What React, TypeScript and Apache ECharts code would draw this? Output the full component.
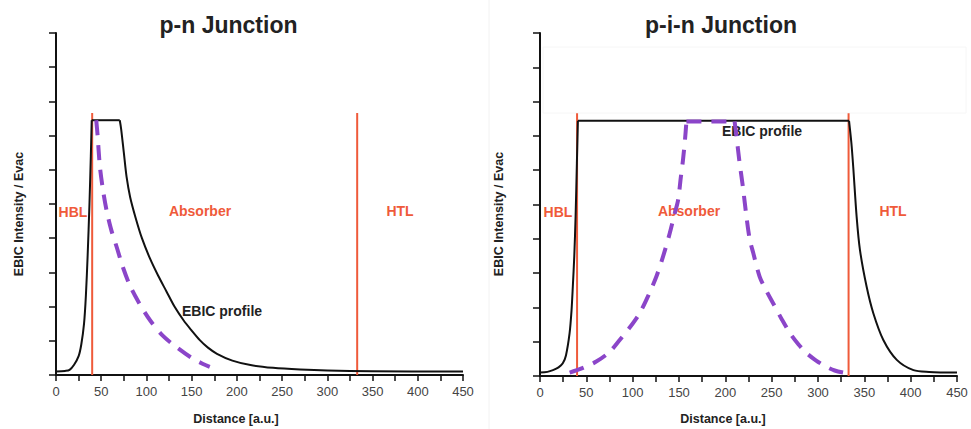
import React, { useEffect, useRef } from "react";
import * as echarts from "echarts";

const FONT = "'Liberation Sans', Arial, Helvetica, sans-serif";

const titles = ["p-n Junction", "p-i-n Junction"];
const xAxisName = "Distance [a.u.]";
const yAxisName = "EBIC Intensity / Evac";
const regionLabels = ["HBL", "Absorber", "HTL"];
const profileLabel = "EBIC profile";

// Layer boundaries (Distance, a.u.) and marker height
const boundaries = [40, 333];
const boundaryTop = 7.66;

// p-n junction: EBIC profile (black) and dashed (purple)
const pnEbic: [number, number][] = [
  [0, 0.1], [10, 0.12], [15, 0.15], [20, 0.3], [25, 0.55], [28, 0.9], [31, 1.5],
  [33, 2.3], [35, 3.5], [37, 5.0], [38.5, 6.4], [39.5, 7.45], [70.5, 7.45],
  [72, 7.2], [75, 6.5], [78, 5.8], [82, 5.2], [88, 4.6], [95, 4.0], [104, 3.4],
  [113, 2.9], [122, 2.45], [131, 2.0], [141, 1.6], [150, 1.3], [159, 1.02],
  [168, 0.8], [178, 0.62], [195, 0.42], [215, 0.29], [240, 0.21], [270, 0.16],
  [300, 0.13], [350, 0.11], [450, 0.1],
];
const pnDashed: [number, number][] = [
  [44.5, 7.45], [46, 7.0], [48.5, 6.1], [52, 5.4], [56, 4.8], [61, 4.25], [67, 3.75],
  [74, 3.15], [82, 2.6], [92, 2.1], [104, 1.6], [118, 1.15], [133, 0.82],
  [150, 0.5], [162, 0.33], [170, 0.24],
];

// p-i-n junction
const pinEbic: [number, number][] = [
  [0, 0.1], [8, 0.12], [14, 0.17], [20, 0.25], [24.6, 0.37], [28, 0.6], [31.9, 1.24],
  [34, 1.9], [35.4, 2.6], [37, 3.5], [38.4, 4.64], [39.8, 6.2], [40.9, 7.44],
  [333.5, 7.44], [336, 6.8], [338, 6.1], [341.7, 4.64], [345.3, 3.67], [352.5, 2.6],
  [359.7, 1.83], [370.5, 1.05], [385, 0.47], [403, 0.17], [420, 0.12], [450, 0.1],
];
const pinDashed: [number, number][] = [
  [32, 0.1], [45, 0.22], [60.7, 0.42], [75, 0.7], [86, 1.05], [97, 1.42], [107.5, 1.83],
  [117, 2.35], [125.6, 2.9], [133, 3.5], [140, 4.16], [145, 4.7], [149, 5.13],
  [152, 5.8], [154.3, 6.3], [156.5, 6.9], [158, 7.42], [210, 7.42], [212, 7.0],
  [215, 6.3], [219, 5.5], [223, 4.6], [226.4, 3.97], [230, 3.6], [237, 2.9],
  [244, 2.5], [252, 2.1], [261, 1.65], [270, 1.24], [279, 0.92], [288, 0.66],
  [298, 0.45], [309, 0.27], [318, 0.16], [327, 0.1],
];

const RED = "#ef5a3a";
const PURPLE = "#8b45c9";
const BLACK = "#111111";

// split a curve into curved runs and flat (plateau) runs, sharing endpoints
function splitRuns(data: [number, number][]) {
  const runs: { flat: boolean; pts: [number, number][] }[] = [];
  let i = 0;
  while (i < data.length - 1) {
    const flat = data[i][1] === data[i + 1][1] && data[i][1] > 1;
    const pts: [number, number][] = [data[i]];
    let j = i;
    while (j < data.length - 1) {
      const f = data[j][1] === data[j + 1][1] && data[j][1] > 1;
      if (f !== flat) break;
      pts.push(data[j + 1]);
      j++;
    }
    runs.push({ flat, pts });
    i = j;
  }
  return runs;
}

export default function App() {
  const ref = useRef<HTMLDivElement>(null);
  useEffect(() => {
    if (!ref.current) return;
    const chart = echarts.init(ref.current, null, { renderer: "svg" });

    const mkX = (gi: number) => ({
      gridIndex: gi,
      type: "value",
      min: 0,
      max: 450,
      interval: 50,
      axisLine: { show: true, onZero: false, lineStyle: { color: BLACK, width: 2 } },
      axisTick: { show: true, length: 6, lineStyle: { color: BLACK, width: 1.5 } },
      minorTick: { show: true, splitNumber: 2, length: 6, lineStyle: { color: BLACK, width: 1.5 } },
      axisLabel: { fontSize: 13, color: "#444", margin: 10, fontFamily: FONT },
      splitLine: { show: false },
      minorSplitLine: { show: false },
    });
    const mkY = (gi: number) => ({
      gridIndex: gi,
      type: "value",
      min: 0,
      max: 10,
      interval: 1,
      axisLine: { show: true, onZero: false, lineStyle: { color: BLACK, width: 2 } },
      axisTick: { show: true, length: 7, lineStyle: { color: BLACK, width: 1.5 } },
      axisLabel: { show: false },
      splitLine: { show: false },
    });

    const line = (gi: number, data: [number, number][], color: string, width: number, dashed = false, z = 2, smooth = false) => ({
      type: "line",
      xAxisIndex: gi,
      yAxisIndex: gi,
      data,
      showSymbol: false,
      symbol: "none",
      smooth: smooth ? 0.3 : false,
      z,
      lineStyle: { color, width, type: dashed ? [15, 10] : "solid", cap: "butt", join: "round" },
      silent: true,
    });

    const series: any[] = [];
    [0, 1].forEach((gi) => {
      boundaries.forEach((b) => {
        series.push(line(gi, [[b, 0], [b, boundaryTop]], RED, 2, false, 1));
      });
    });
    const addCurve = (gi: number, data: [number, number][], color: string, width: number, dashed: boolean, z: number) => {
      splitRuns(data).forEach((r) => series.push(line(gi, r.pts, color, width, dashed, z, !r.flat)));
    };
    addCurve(0, pnEbic, BLACK, 2, false, 2);
    addCurve(0, pnDashed, PURPLE, 4, true, 3);
    addCurve(1, pinEbic, BLACK, 2, false, 2);
    addCurve(1, pinDashed, PURPLE, 4, true, 3);

    const txt = (x: number, y: number, text: string, size: number, color: string, rotation = 0, weight = "bold") => ({
      type: "text",
      x,
      y,
      rotation,
      style: {
        text,
        fontSize: size,
        fontWeight: weight,
        fontFamily: FONT,
        fill: color,
        align: "center",
        verticalAlign: "middle",
      },
      silent: true,
    });

    const graphic: any[] = [
      { type: "line", shape: { x1: 489, y1: 0, x2: 489, y2: 429 }, style: { stroke: "#f2f2f2", lineWidth: 1 }, silent: true },
      { type: "rect", shape: { x: 543, y: 47, width: 423, height: 66 }, style: { fill: "none", stroke: "#f6f6f6", lineWidth: 1 }, silent: true },
      txt(228.5, 25, titles[0], 23, "#222"),
      txt(721, 25, titles[1], 23, "#222"),
      txt(19, 214, yAxisName, 12.5, "#222", Math.PI / 2),
      txt(499, 214, yAxisName, 12.5, "#222", Math.PI / 2),
      txt(236, 419, xAxisName, 12.5, "#222"),
      txt(723, 419, xAxisName, 12.5, "#222"),
      txt(73, 212, regionLabels[0], 14, RED),
      txt(200, 211, regionLabels[1], 14, RED),
      txt(400, 211, regionLabels[2], 14, RED),
      txt(222, 311, profileLabel, 14, "#222"),
      txt(558, 212, regionLabels[0], 14, RED),
      txt(689, 211, regionLabels[1], 14, RED),
      txt(893, 211, regionLabels[2], 14, RED),
      txt(762, 131, profileLabel, 14, "#222"),
    ];

    chart.setOption({
      animation: false,
      backgroundColor: "#ffffff",
      grid: [
        { left: 56, top: 33, width: 407, height: 342 },
        { left: 540, top: 33, width: 417, height: 343 },
      ],
      xAxis: [mkX(0), mkX(1)],
      yAxis: [mkY(0), mkY(1)],
      series,
      graphic,
    });
    return () => chart.dispose();
  }, []);
  return (
    <div
      ref={ref}
      style={{ position: "fixed", left: 0, top: 0, width: 971, height: 429, background: "#fff" }}
    />
  );
}
